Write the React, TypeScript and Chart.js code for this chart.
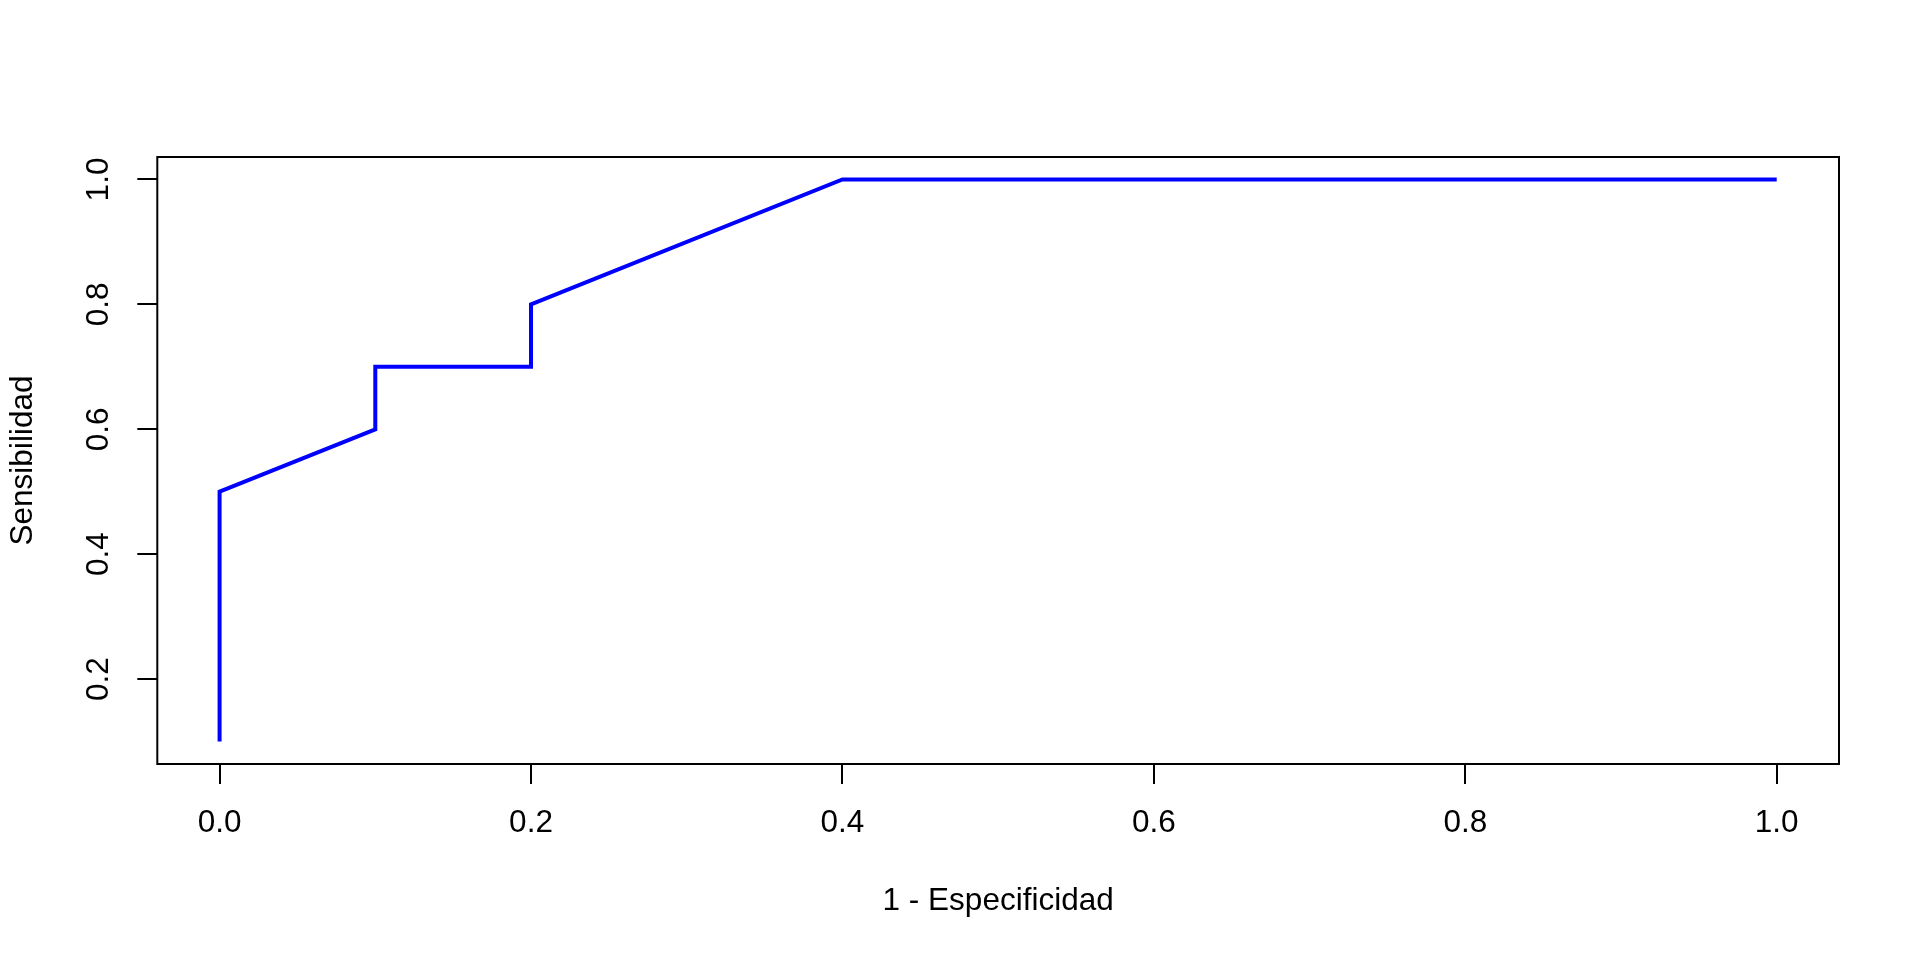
import React, { useEffect, useRef } from "react";
import { Chart, registerables } from "chart.js";

Chart.register(...registerables);

// ROC curve points
const falsePositiveRate = [0, 0, 0.1, 0.1, 0.2, 0.2, 0.4, 1.0];
const sensitivity = [0.1, 0.5, 0.6, 0.7, 0.7, 0.8, 1.0, 1.0];

const xTickValues = [0, 0.2, 0.4, 0.6, 0.8, 1.0];
const yTickValues = [0.2, 0.4, 0.6, 0.8, 1.0];

const xTitle = "1 - Especificidad";
const yTitle = "Sensibilidad";

const FONT = "'Liberation Sans', Arial, Helvetica, sans-serif";
const FONT_SIZE = 31.5;

const boxPlugin = {
  id: "boxPlugin",
  afterDraw(chart: any) {
    const { ctx, chartArea } = chart;
    ctx.save();
    ctx.strokeStyle = "#000";
    ctx.lineWidth = 2;
    ctx.strokeRect(
      chartArea.left,
      chartArea.top,
      chartArea.right - chartArea.left,
      chartArea.bottom - chartArea.top
    );
    ctx.restore();
  },
};

export default function App() {
  const ref = useRef<HTMLCanvasElement | null>(null);

  useEffect(() => {
    if (!ref.current) return;
    const points = falsePositiveRate.map((x, i) => ({ x, y: sensitivity[i] }));
    const chart = new Chart(ref.current, {
      type: "scatter",
      data: {
        datasets: [
          {
            data: points,
            showLine: true,
            borderColor: "#0000FF",
            backgroundColor: "#0000FF",
            borderWidth: 4,
            pointRadius: 0,
            tension: 0,
            borderJoinStyle: "miter",
            borderCapStyle: "butt",
          } as any,
        ],
      },
      options: {
        responsive: false,
        animation: false,
        devicePixelRatio: 1,
        layout: { padding: { top: 157, right: 81, left: 0, bottom: 0 } },
        plugins: {
          legend: { display: false },
          tooltip: { enabled: false },
        },
        scales: {
          x: {
            type: "linear",
            min: -0.04,
            max: 1.04,
            afterBuildTicks: (axis: any) => {
              axis.ticks = xTickValues.map((v) => ({ value: v }));
            },
            afterFit: (scale: any) => {
              scale.height = 196;
            },
            border: { display: false },
            grid: {
              display: true,
              drawOnChartArea: false,
              drawTicks: true,
              tickLength: 20,
              color: "#000",
              lineWidth: 2,
            },
            ticks: {
              color: "#000",
              padding: 20.5,
              maxRotation: 0,
              minRotation: 0,
              autoSkip: false,
              font: { family: FONT, size: FONT_SIZE },
              callback: (v: any) => Number(v).toFixed(1),
            },
            title: {
              display: true,
              text: xTitle,
              color: "#000",
              font: { family: FONT, size: FONT_SIZE },
              padding: { top: 4, bottom: 40 },
            },
          },
          y: {
            type: "linear",
            min: 0.064,
            max: 1.036,
            afterBuildTicks: (axis: any) => {
              axis.ticks = yTickValues.map((v) => ({ value: v }));
            },
            afterFit: (scale: any) => {
              scale.width = 157.3;
            },
            border: { display: false },
            grid: {
              display: true,
              drawOnChartArea: false,
              drawTicks: true,
              tickLength: 20,
              color: "#000",
              lineWidth: 2,
            },
            ticks: {
              color: "#000",
              padding: 16.4,
              minRotation: 90,
              maxRotation: 90,
              crossAlign: "center",
              autoSkip: false,
              font: { family: FONT, size: FONT_SIZE },
              callback: (v: any) => Number(v).toFixed(1),
            },
            title: {
              display: true,
              text: yTitle,
              color: "#000",
              font: { family: FONT, size: FONT_SIZE },
              padding: { top: 4, bottom: 4 },
            },
          },
        },
      },
      plugins: [boxPlugin],
    });
    return () => chart.destroy();
  }, []);

  return (
    <div
      style={{
        position: "fixed",
        left: 0,
        top: 0,
        width: 1920,
        height: 960,
        background: "#fff",
      }}
    >
      <canvas ref={ref} width={1920} height={960} style={{ display: "block" }} />
    </div>
  );
}
